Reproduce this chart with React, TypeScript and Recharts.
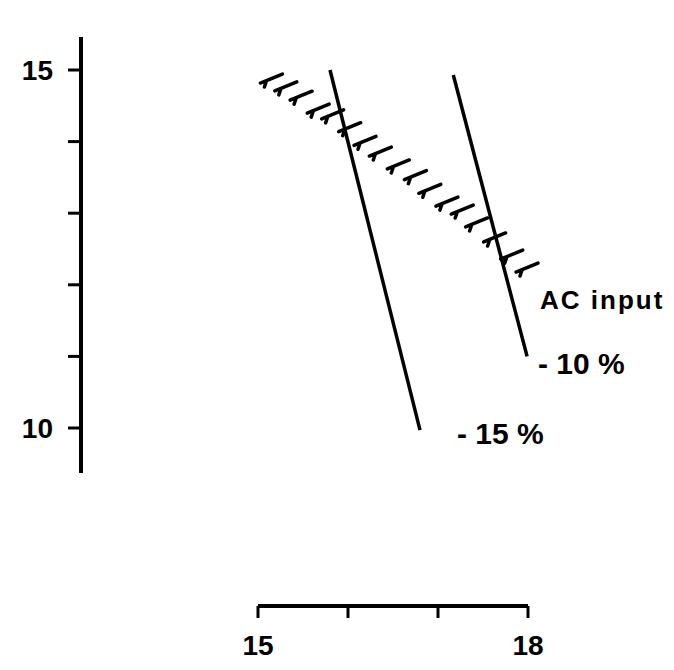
import React from 'react';
import { ComposedChart, Line, Scatter, XAxis, YAxis, ReferenceLine } from 'recharts';

// axis ticks
const xTicks = [15, 16, 17, 18];
const xLabels = ['15', '', '', '18'];
const yTicks = [10, 11, 12, 13, 14, 15];
const yLabels = ['10', '', '', '', '', '15'];

// the two AC input lines
const line15 = [
  { x: 15.8, y: 15.0 },
  { x: 16.8, y: 9.97 },
];
const line10 = [
  { x: 17.17, y: 14.93 },
  { x: 17.99, y: 11.0 },
];

// hatched boundary marks
const hatchX = [15.16, 15.32, 15.49, 15.68, 15.84, 16.03, 16.2, 16.37, 16.57, 16.76, 16.92, 17.11, 17.28, 17.44, 17.64, 17.83, 18.0];
const hatchY = [14.86, 14.75, 14.62, 14.44, 14.36, 14.18, 13.99, 13.84, 13.66, 13.51, 13.32, 13.14, 13.03, 12.85, 12.64, 12.4, 12.22];
const hatch = hatchX.map((x, i) => ({ x, y: hatchY[i] }));

// axis extents
const xMin = 15 - 177 / 90;
const xMax = 15 + 412 / 90;
const yMin = 10 - 178 / 71.6;
const yMax = 15 + 33 / 71.6;
const yAxisBottom = 9.37;

const font = '"Liberation Sans", Arial, sans-serif';

const HatchMark = (props: any) => {
  const { cx, cy } = props;
  if (cx == null || cy == null) return null;
  return (
    <path
      d={`M${cx - 12},${cy + 3} L${cx + 10},${cy - 6} M${cx - 6},${cy + 1} L${cx - 8},${cy + 7}`}
      stroke="#000"
      strokeWidth={3.5}
      fill="none"
      strokeLinecap="round"
    />
  );
};

const tickStyle = { fill: '#000', fontSize: 28, fontWeight: 700, fontFamily: font };

export default function App() {
  return (
    <div style={{ position: 'absolute', left: 0, top: 0, width: 674, height: 670, background: '#fff' }}>
      <ComposedChart width={674} height={670} margin={{ top: 37, right: 4, bottom: 4, left: 0 }}>
        <XAxis
          type="number"
          dataKey="x"
          domain={[xMin, xMax]}
          allowDataOverflow
          ticks={xTicks}
          interval={0}
          height={60}
          axisLine={false}
          tickLine={{ stroke: '#000', strokeWidth: 3 }}
          tickSize={12}
          tickMargin={17}
          tick={tickStyle}
          tickFormatter={(v) => xLabels[xTicks.indexOf(v)] ?? ''}
        />
        <YAxis
          type="number"
          dataKey="y"
          domain={[yMin, yMax]}
          allowDataOverflow
          ticks={yTicks}
          interval={0}
          width={81}
          axisLine={false}
          tickLine={{ stroke: '#000', strokeWidth: 3 }}
          tickSize={13}
          tickMargin={15}
          tick={tickStyle}
          tickFormatter={(v) => yLabels[yTicks.indexOf(v)] ?? ''}
        />
        <ReferenceLine
          segment={[{ x: xMin, y: yAxisBottom }, { x: xMin, y: yMax }]}
          stroke="#000"
          strokeWidth={4}
          ifOverflow="visible"
        />
        <ReferenceLine
          segment={[{ x: 15, y: yMin }, { x: 18, y: yMin }]}
          stroke="#000"
          strokeWidth={4}
          ifOverflow="visible"
        />
        <Line data={line15} dataKey="y" type="linear" stroke="#000" strokeWidth={3.5} dot={false} isAnimationActive={false} />
        <Line data={line10} dataKey="y" type="linear" stroke="#000" strokeWidth={3.5} dot={false} isAnimationActive={false} />
        <Scatter data={hatch} dataKey="y" shape={HatchMark} isAnimationActive={false} />
      </ComposedChart>
      <svg width={674} height={670} style={{ position: 'absolute', left: 0, top: 0, pointerEvents: 'none' }}>
        <g fontFamily={font} fontWeight={700} fill="#000">
          <text x={540} y={309} fontSize={26} letterSpacing={2}>AC input</text>
          <text x={538} y={374} fontSize={30}>- 10 %</text>
          <text x={457} y={444} fontSize={30}>- 15 %</text>
        </g>
      </svg>
    </div>
  );
}
